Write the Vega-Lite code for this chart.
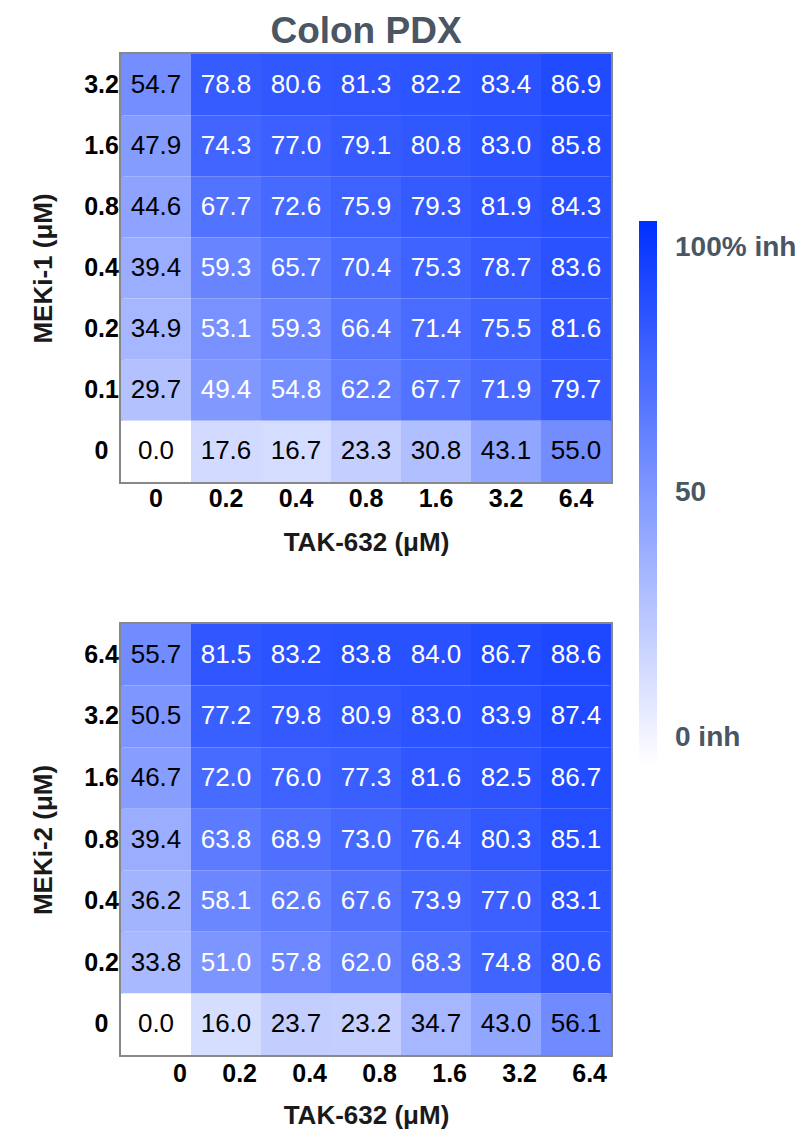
{
  "$schema": "https://vega.github.io/schema/vega-lite/v6.json",
  "padding": {"left": 28, "top": 11, "right": 0, "bottom": 0},
  "background": "white",
  "spacing": 65,
  "config": {
    "font": "Liberation Sans",
    "view": {"stroke": "#888888", "strokeWidth": 4},
    "axis": {
      "labelFont": "Liberation Sans", "labelFontSize": 25, "labelFontWeight": "bold", "labelColor": "black",
      "titleFont": "Liberation Sans", "titleFontSize": 26, "titleFontWeight": "bold", "titleColor": "#1a1a1a",
      "domain": false, "ticks": false, "grid": false
    }
  },
  "datasets": {
    "top": [
      {"mek": "3.2", "tak": "0", "inh": 54.7}, {"mek": "3.2", "tak": "0.2", "inh": 78.8}, {"mek": "3.2", "tak": "0.4", "inh": 80.6}, {"mek": "3.2", "tak": "0.8", "inh": 81.3}, {"mek": "3.2", "tak": "1.6", "inh": 82.2}, {"mek": "3.2", "tak": "3.2", "inh": 83.4}, {"mek": "3.2", "tak": "6.4", "inh": 86.9},
      {"mek": "1.6", "tak": "0", "inh": 47.9}, {"mek": "1.6", "tak": "0.2", "inh": 74.3}, {"mek": "1.6", "tak": "0.4", "inh": 77.0}, {"mek": "1.6", "tak": "0.8", "inh": 79.1}, {"mek": "1.6", "tak": "1.6", "inh": 80.8}, {"mek": "1.6", "tak": "3.2", "inh": 83.0}, {"mek": "1.6", "tak": "6.4", "inh": 85.8},
      {"mek": "0.8", "tak": "0", "inh": 44.6}, {"mek": "0.8", "tak": "0.2", "inh": 67.7}, {"mek": "0.8", "tak": "0.4", "inh": 72.6}, {"mek": "0.8", "tak": "0.8", "inh": 75.9}, {"mek": "0.8", "tak": "1.6", "inh": 79.3}, {"mek": "0.8", "tak": "3.2", "inh": 81.9}, {"mek": "0.8", "tak": "6.4", "inh": 84.3},
      {"mek": "0.4", "tak": "0", "inh": 39.4}, {"mek": "0.4", "tak": "0.2", "inh": 59.3}, {"mek": "0.4", "tak": "0.4", "inh": 65.7}, {"mek": "0.4", "tak": "0.8", "inh": 70.4}, {"mek": "0.4", "tak": "1.6", "inh": 75.3}, {"mek": "0.4", "tak": "3.2", "inh": 78.7}, {"mek": "0.4", "tak": "6.4", "inh": 83.6},
      {"mek": "0.2", "tak": "0", "inh": 34.9}, {"mek": "0.2", "tak": "0.2", "inh": 53.1}, {"mek": "0.2", "tak": "0.4", "inh": 59.3}, {"mek": "0.2", "tak": "0.8", "inh": 66.4}, {"mek": "0.2", "tak": "1.6", "inh": 71.4}, {"mek": "0.2", "tak": "3.2", "inh": 75.5}, {"mek": "0.2", "tak": "6.4", "inh": 81.6},
      {"mek": "0.1", "tak": "0", "inh": 29.7}, {"mek": "0.1", "tak": "0.2", "inh": 49.4}, {"mek": "0.1", "tak": "0.4", "inh": 54.8}, {"mek": "0.1", "tak": "0.8", "inh": 62.2}, {"mek": "0.1", "tak": "1.6", "inh": 67.7}, {"mek": "0.1", "tak": "3.2", "inh": 71.9}, {"mek": "0.1", "tak": "6.4", "inh": 79.7},
      {"mek": "0", "tak": "0", "inh": 0.0}, {"mek": "0", "tak": "0.2", "inh": 17.6}, {"mek": "0", "tak": "0.4", "inh": 16.7}, {"mek": "0", "tak": "0.8", "inh": 23.3}, {"mek": "0", "tak": "1.6", "inh": 30.8}, {"mek": "0", "tak": "3.2", "inh": 43.1}, {"mek": "0", "tak": "6.4", "inh": 55.0}
    ],
    "bottom": [
      {"mek": "6.4", "tak": "0", "inh": 55.7}, {"mek": "6.4", "tak": "0.2", "inh": 81.5}, {"mek": "6.4", "tak": "0.4", "inh": 83.2}, {"mek": "6.4", "tak": "0.8", "inh": 83.8}, {"mek": "6.4", "tak": "1.6", "inh": 84.0}, {"mek": "6.4", "tak": "3.2", "inh": 86.7}, {"mek": "6.4", "tak": "6.4", "inh": 88.6},
      {"mek": "3.2", "tak": "0", "inh": 50.5}, {"mek": "3.2", "tak": "0.2", "inh": 77.2}, {"mek": "3.2", "tak": "0.4", "inh": 79.8}, {"mek": "3.2", "tak": "0.8", "inh": 80.9}, {"mek": "3.2", "tak": "1.6", "inh": 83.0}, {"mek": "3.2", "tak": "3.2", "inh": 83.9}, {"mek": "3.2", "tak": "6.4", "inh": 87.4},
      {"mek": "1.6", "tak": "0", "inh": 46.7}, {"mek": "1.6", "tak": "0.2", "inh": 72.0}, {"mek": "1.6", "tak": "0.4", "inh": 76.0}, {"mek": "1.6", "tak": "0.8", "inh": 77.3}, {"mek": "1.6", "tak": "1.6", "inh": 81.6}, {"mek": "1.6", "tak": "3.2", "inh": 82.5}, {"mek": "1.6", "tak": "6.4", "inh": 86.7},
      {"mek": "0.8", "tak": "0", "inh": 39.4}, {"mek": "0.8", "tak": "0.2", "inh": 63.8}, {"mek": "0.8", "tak": "0.4", "inh": 68.9}, {"mek": "0.8", "tak": "0.8", "inh": 73.0}, {"mek": "0.8", "tak": "1.6", "inh": 76.4}, {"mek": "0.8", "tak": "3.2", "inh": 80.3}, {"mek": "0.8", "tak": "6.4", "inh": 85.1},
      {"mek": "0.4", "tak": "0", "inh": 36.2}, {"mek": "0.4", "tak": "0.2", "inh": 58.1}, {"mek": "0.4", "tak": "0.4", "inh": 62.6}, {"mek": "0.4", "tak": "0.8", "inh": 67.6}, {"mek": "0.4", "tak": "1.6", "inh": 73.9}, {"mek": "0.4", "tak": "3.2", "inh": 77.0}, {"mek": "0.4", "tak": "6.4", "inh": 83.1},
      {"mek": "0.2", "tak": "0", "inh": 33.8}, {"mek": "0.2", "tak": "0.2", "inh": 51.0}, {"mek": "0.2", "tak": "0.4", "inh": 57.8}, {"mek": "0.2", "tak": "0.8", "inh": 62.0}, {"mek": "0.2", "tak": "1.6", "inh": 68.3}, {"mek": "0.2", "tak": "3.2", "inh": 74.8}, {"mek": "0.2", "tak": "6.4", "inh": 80.6},
      {"mek": "0", "tak": "0", "inh": 0.0}, {"mek": "0", "tak": "0.2", "inh": 16.0}, {"mek": "0", "tak": "0.4", "inh": 23.7}, {"mek": "0", "tak": "0.8", "inh": 23.2}, {"mek": "0", "tak": "1.6", "inh": 34.7}, {"mek": "0", "tak": "3.2", "inh": 43.0}, {"mek": "0", "tak": "6.4", "inh": 56.1}
    ]
  },
  "vconcat": [
    {
      "title": {"text": "Colon PDX", "fontSize": 37, "fontWeight": "bold", "color": "#4a5663", "anchor": "middle", "frame": "group", "offset": 3, "font": "Liberation Sans"},
      "width": 490,
      "height": 428,
      "data": {"name": "top"},
      "encoding": {
        "x": {"field": "tak", "type": "ordinal", "sort": ["0", "0.2", "0.4", "0.8", "1.6", "3.2", "6.4"], "axis": {"title": "TAK-632 (μM)", "labelAngle": 0, "labelPadding": 4, "titlePadding": 18}},
        "y": {"field": "mek", "type": "ordinal", "sort": ["3.2", "1.6", "0.8", "0.4", "0.2", "0.1", "0"], "axis": {"title": "MEKi-1 (μM)", "labelAlign": "center", "labelPadding": 20, "titlePadding": 27}}
      },
      "layer": [
        {
          "mark": {"type": "rect"},
          "encoding": {
            "color": {"field": "inh", "type": "quantitative", "scale": {"domain": [0, 100], "range": ["#ffffff", "#0030ff"], "interpolate": "rgb"},
              "legend": {"orient": "none", "legendX": 518, "legendY": 167, "title": null, "values": [5, 50, 95], "labelExpr": "datum.value == 95 ? '100% inh' : datum.value == 50 ? '50' : '0 inh'", "gradientLength": 544, "gradientThickness": 18, "gradientStrokeWidth": 0, "labelFontSize": 28, "labelFontWeight": "bold", "labelColor": "#4a5663", "labelFont": "Liberation Sans", "labelOffset": 18, "direction": "vertical"}}
          }
        },
        {
          "mark": {"type": "text", "fontSize": 26, "font": "Liberation Sans"},
          "encoding": {
            "text": {"field": "inh", "type": "quantitative", "format": ".1f"},
            "color": {"condition": {"test": "datum.tak == '0' || datum.mek == '0'", "value": "black"}, "value": "white"}
          }
        }
      ]
    },
    {
      "width": 490,
      "height": 431,
      "data": {"name": "bottom"},
      "encoding": {
        "x": {"field": "tak", "type": "ordinal", "sort": ["0", "0.2", "0.4", "0.8", "1.6", "3.2", "6.4"], "axis": {"title": "TAK-632 (μM)", "labelAngle": 0, "labelPadding": 6, "titlePadding": 16, "labelAlign": "right", "labelOffset": 31}},
        "y": {"field": "mek", "type": "ordinal", "sort": ["6.4", "3.2", "1.6", "0.8", "0.4", "0.2", "0"], "axis": {"title": "MEKi-2 (μM)", "labelAlign": "center", "labelPadding": 20, "titlePadding": 27}}
      },
      "layer": [
        {
          "mark": {"type": "rect"},
          "encoding": {
            "color": {"field": "inh", "type": "quantitative", "scale": {"domain": [0, 100], "range": ["#ffffff", "#0030ff"], "interpolate": "rgb"},
              "legend": {"orient": "none", "legendX": 518, "legendY": 167, "title": null, "values": [5, 50, 95], "labelExpr": "datum.value == 95 ? '100% inh' : datum.value == 50 ? '50' : '0 inh'", "gradientLength": 544, "gradientThickness": 18, "gradientStrokeWidth": 0, "labelFontSize": 28, "labelFontWeight": "bold", "labelColor": "#4a5663", "labelFont": "Liberation Sans", "labelOffset": 18, "direction": "vertical"}}
          }
        },
        {
          "mark": {"type": "text", "fontSize": 26, "font": "Liberation Sans"},
          "encoding": {
            "text": {"field": "inh", "type": "quantitative", "format": ".1f"},
            "color": {"condition": {"test": "datum.tak == '0' || datum.mek == '0'", "value": "black"}, "value": "white"}
          }
        }
      ]
    }
  ]
}
